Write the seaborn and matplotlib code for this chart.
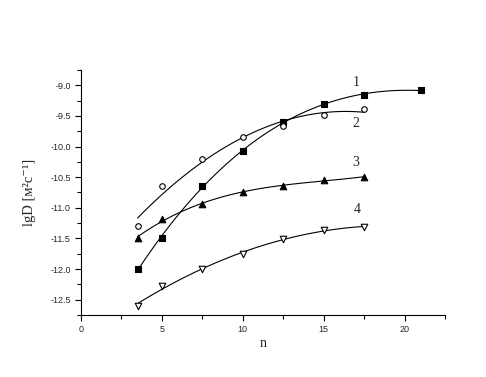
import numpy as np
import pandas as pd
import seaborn as sns
from matplotlib import pyplot as plt
from matplotlib.ticker import MultipleLocator

# values
n1 = [3.5, 5, 7.5, 10, 12.5, 15, 17.5, 21]
lgD1 = [-12.0, -11.49, -10.65, -10.07, -9.6, -9.3, -9.16, -9.08]

n2 = [3.5, 5, 7.5, 10, 12.5, 15, 17.5]
lgD2 = [-11.29, -10.645, -10.21, -9.845, -9.665, -9.48, -9.39]

n3 = [3.5, 5, 7.5, 10, 12.5, 15, 17.5]
lgD3 = [-11.49, -11.19, -10.94, -10.74, -10.645, -10.54, -10.5]

n4 = [3.5, 5, 7.5, 10, 12.5, 15, 17.5]
lgD4 = [-12.6, -12.27, -12.0, -11.76, -11.51, -11.365, -11.31]

labels = ['1', '2', '3', '4']
label_pos = [(17.0, -8.95), (17.0, -9.63), (17.0, -10.26), (17.05, -11.03)]

sns.set_style("ticks")
plt.rcParams['font.family'] = ['Liberation Sans', 'DejaVu Sans']
plt.rcParams['xtick.labelsize'] = 6.5
plt.rcParams['ytick.labelsize'] = 6.5

fig = plt.figure(figsize=(4.86, 3.77), dpi=100)
ax = fig.add_axes([0.1667, 0.1645, 0.749, 0.6498])

series = [
    (n1, lgD1, 's', 'black', 3, 20),
    (n2, lgD2, 'o', 'white', 2, 16),
    (n3, lgD3, '^', 'black', 3, 22),
    (n4, lgD4, 'v', 'white', 2, 22),
]
for xs, ys, mk, fc, order, sz in series:
    df = pd.DataFrame({'n': xs, 'lgD': ys})
    sns.regplot(data=df, x='n', y='lgD', order=order, ci=None, scatter=False,
                line_kws={'color': 'black', 'lw': 0.8}, ax=ax)
    ax.scatter(df['n'], df['lgD'], marker=mk, s=sz, facecolor=fc,
               edgecolor='black', linewidths=0.8, zorder=3)

for lab, (x, y) in zip(labels, label_pos):
    ax.text(x, y, lab, fontsize=10, family=['Liberation Serif', 'DejaVu Serif'],
            ha='center', va='center')

ax.set_xlim(0, 22.5)
ax.set_ylim(-12.75, -8.75)
ax.xaxis.set_major_locator(MultipleLocator(5))
ax.xaxis.set_minor_locator(MultipleLocator(2.5))
ax.yaxis.set_major_locator(MultipleLocator(0.5))
ax.yaxis.set_minor_locator(MultipleLocator(0.25))
ax.yaxis.set_major_formatter(plt.FormatStrFormatter('%.1f'))
ax.tick_params(which='both', direction='out', color='black', width=0.8)
ax.tick_params(which='major', length=4)
ax.tick_params(which='minor', length=3)
for s in ['left', 'bottom']:
    ax.spines[s].set_color('black')
    ax.spines[s].set_linewidth(0.8)
sns.despine(ax=ax)

ax.set_xlabel('n', fontsize=10, family=['Liberation Serif', 'DejaVu Serif'], labelpad=2)
ax.set_ylabel('lgD [м²с⁻¹]', fontsize=10.5, family=['Liberation Serif', 'DejaVu Serif'], labelpad=10)

fig.savefig('out.png', dpi=100)
